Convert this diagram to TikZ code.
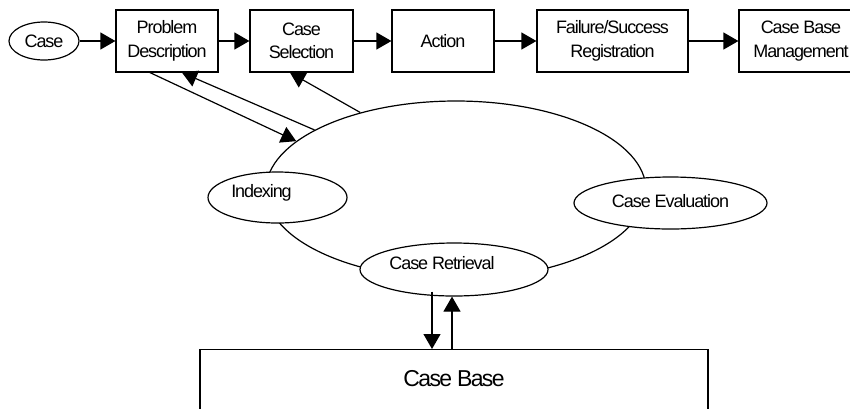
\documentclass[tikz,border=0pt]{standalone}
\usepackage{fontspec}
\setmainfont{Liberation Sans}
\newfontfamily\labfont{Liberation Sans}[LetterSpace=-6.0]
\newfontfamily\bigfont{Liberation Sans}[LetterSpace=-7.0]
\usetikzlibrary{arrows.meta,shapes.geometric}
\begin{document}
\begin{tikzpicture}[x=1pt,y=-1pt,
  lw/.style={line width=1.2pt},
  smalltext/.style={font=\labfont\fontsize{18}{23.5}\selectfont},
  procbox/.style={draw,lw,rectangle,inner sep=0pt,minimum height=62pt,align=center,smalltext},
  oval/.style={draw,lw,ellipse,fill=white,inner sep=0pt,smalltext},
  arr/.style={lw,-{Triangle[length=15pt,width=17pt]}}
]
\useasboundingbox (0,0) rectangle (850,408);
\clip (0,0) rectangle (850,408);

% top row
\node[oval,minimum width=70pt,minimum height=38pt] (case) at (44,41) {Case};
\node[procbox,minimum width=102pt] (pd) at (167,41) {Problem\\Description};
\node[procbox,minimum width=103pt] (cs) at (301.5,41) {Case\\Selection};
\node[procbox,minimum width=102pt] (act) at (443,41) {Action};
\node[procbox,minimum width=151pt] (fs) at (612.5,41) {Failure/Success\\Registration};
\node[procbox,minimum width=124pt] (cbm) at (801,41) {Case Base\\Management};

% cycle
\node[draw,lw,ellipse,inner sep=0pt,minimum width=380pt,minimum height=178pt] (cycle) at (456,190) {};
\node[oval,minimum width=139pt,minimum height=51pt,text depth=13pt] (idx) at (277.5,197.5) {Indexing\hspace*{32pt}};
\node[oval,minimum width=193pt,minimum height=52pt,text depth=5pt] (eval) at (670.5,203) {Case Evaluation};
\node[oval,minimum width=188pt,minimum height=53pt,text depth=14pt] (ret) at (454,269.5) {Case Retrieval\hspace*{24pt}};

% case base
\node[draw,lw,rectangle,inner sep=0pt,minimum width=508pt,anchor=north,
      text height=37pt,text depth=60pt,font=\bigfont\fontsize{23}{27}\selectfont] (cb) at (454,349) {Case Base};

% connectors
\draw[arr] (case) -- (pd);
\draw[arr] (pd) -- (cs);
\draw[arr] (cs) -- (act);
\draw[arr] (act) -- (fs);
\draw[arr] (fs) -- (cbm);

\draw[arr] ([xshift=-17pt]pd.south) -- (cycle.163);
\draw[arr] (cycle.157) -- ([xshift=15pt]pd.south);
\draw[arr] (cycle.141) -- ([xshift=-11.5pt]cs.south);

\draw[arr] ([xshift=-22pt,yshift=5pt]ret.south) -- ([xshift=-22pt]cb.north);
\draw[arr] ([xshift=-2pt]cb.north) -- ([xshift=-2pt]ret.south);
\end{tikzpicture}
\end{document}
